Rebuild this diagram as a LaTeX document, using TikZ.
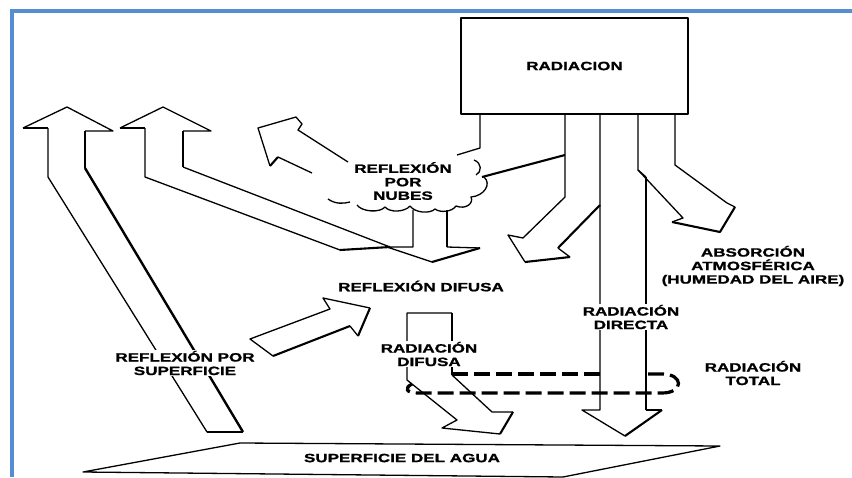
\documentclass[tikz,border=0pt]{standalone}
\usepackage{fontspec}
\newfontfamily\lblfont[FakeStretch=1.42,FakeBold=1.2]{Liberation Sans Bold}
\usepackage{tikz}
\definecolor{marco}{RGB}{84,141,212}

\begin{document}
\begin{tikzpicture}[x=1pt,y=-1pt,
  borde/.style={line width=1.3pt,line join=round},
  sombra/.style={line width=2.1pt,line join=round},
  texto/.style={font=\lblfont\fontsize{12}{13.5}\selectfont,align=center,inner sep=1pt},
  tapa/.style={texto,fill=white},
  lazo/.style={line width=3.2pt,dash pattern=on 16pt off 6pt}]
\useasboundingbox (0,0) rectangle (852,477);
\draw[marco,line width=4pt] (12,477) -- (12,11) -- (852,11);
\node[draw,borde,texto,minimum width=227pt,minimum height=96pt] (rad) at (574.5,66) {RADIACION};
\draw[borde] (480,114) -- (480,148) -- (457,155);
\draw[sombra] (482,177) -- (565,155);
\draw[borde] (565,114) -- (565,197) -- (523,238) -- (508,235) -- (525,262);
\draw[sombra] (525,262) -- (570,257);
\draw[borde] (570,257) -- (558,248);
\draw[sombra] (558,248) -- (600,205);
\draw[borde] (600,114) -- (600,410) -- (582,410) -- (625,436);
\draw[sombra] (625,436) -- (662,410);
\draw[borde] (662,410) -- (646,410);
\draw[sombra] (646,410) -- (646,177);
\draw[borde] (646,177) -- (638,170) -- (638,114);
\draw[borde] (638,170) -- (683,218) -- (672,222);
\draw[sombra] (672,222) -- (720,232) -- (735,207);
\draw[borde] (735,207) -- (727,203) -- (675,165) -- (675,114);
\draw[borde] (207,432) -- (48,177) -- (48,128);
\draw[sombra] (48,128) -- (23,128);
\draw[borde] (23,128) -- (67,107) -- (113,131) -- (85,131);
\draw[sombra] (85,131) -- (85,168);
\draw[borde,line width=2.4pt] (85,168) -- (243,432);
\draw[sombra] (243,432) -- (207,432);
\draw[borde] (340,250) -- (145,177) -- (145,128);
\draw[sombra] (145,128) -- (120,128);
\draw[borde] (120,128) -- (163,107) -- (211,131) -- (183,131);
\draw[sombra] (183,131) -- (183,167);
\draw[borde] (183,167) -- (390,247);
\draw[sombra] (390,247) -- (340,250);
\draw[borde] (413,210) -- (413,247) -- (387,247) -- (432,262);
\draw[sombra] (432,262) -- (480,248);
\draw[borde] (480,248) -- (447,247);
\draw[sombra] (447,247) -- (447,210);
\draw[borde] (348,162) -- (298,130) -- (302,124) -- (296,117) -- (258,128) -- (270,166);
\draw[sombra] (270,166) -- (278,157);
\draw[borde] (278,157) -- (312,173);
\draw[borde] (273,356) -- (250,339) -- (330,309) -- (323,298) -- (370,308);
\draw[sombra] (370,308) -- (358,336);
\draw[borde] (358,336) -- (350,326);
\draw[sombra] (350,326) -- (273,356);
\draw[borde] (452,313) -- (407,313) -- (407,380) -- (457,420) -- (442,428) -- (500,434);
\draw[sombra] (500,434) -- (513,412);
\draw[borde] (513,412) -- (492,412) -- (452,375);
\draw[sombra] (452,375) -- (452,313);
\draw[lazo] (452,374) -- (600,374);
\draw[lazo] (648,374) -- (662,374) .. controls (684,374) and (684,393) .. (662,393) -- (418,393) .. controls (406,393) and (404,388) .. (412,384);
\draw[borde] (328,199) .. controls (335,204) and (343,204) .. (350,202);
\draw[borde] (357,205) .. controls (362,212) and (380,213) .. (385,207) .. controls (390,213) and (405,212) .. (410,206) .. controls (415,213) and (430,214) .. (435,209) .. controls (440,213) and (452,212) .. (456,206) .. controls (466,210) and (474,203) .. (471,197) .. controls (484,196) and (492,184) .. (484,177);
\draw[borde] (474,160) .. controls (482,163) and (482,172) .. (476,175);
\draw[borde] (83,472) -- (240,443) -- (720,446) -- (563,477) -- cycle;
\node[tapa] (nubes) at (403,181) {REFLEXIÓN\\POR\\NUBES};
\node[texto] (absorcion) at (753,266) {ABSORCIÓN\\ATMOSFÉRICA\\(HUMEDAD DEL AIRE)};
\node[texto] (refldif) at (421,286) {REFLEXIÓN DIFUSA};
\node[tapa] (directa) at (631,317) {RADIACIÓN\\DIRECTA};
\node[tapa] (difusa) at (429,354) {RADIACIÓN\\DIFUSA};
\node[texto] (total) at (753,373) {RADIACIÓN\\TOTAL};
\node[tapa] (superficie) at (185,363) {REFLEXIÓN POR\\SUPERFICIE};
\node[texto] (agua) at (402,458) {SUPERFICIE DEL AGUA};
\end{tikzpicture}
\end{document}
